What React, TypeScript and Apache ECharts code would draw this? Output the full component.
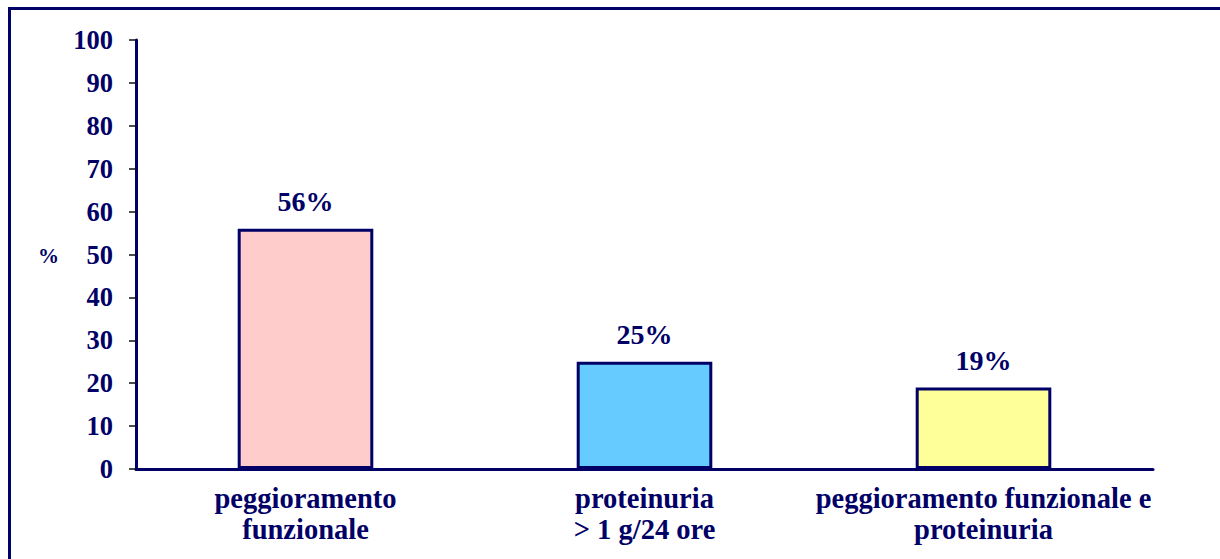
import React, { useEffect, useRef } from "react";
import * as echarts from "echarts";

const categories: string[] = [
  "peggioramento\nfunzionale",
  "proteinuria\n> 1 g/24 ore",
  "peggioramento funzionale e\nproteinuria",
];
const values: number[] = [56, 25, 19];
const barColors: string[] = ["#FFCCCC", "#66CCFF", "#FFFF99"];
const yTicks = { min: 0, max: 100, interval: 10 };
const yAxisName = "%";

const NAVY = "#000066";
const SERIF = "Liberation Serif";

export default function App() {
  const ref = useRef<HTMLDivElement>(null);

  useEffect(() => {
    document.body.style.margin = "0";
    if (!ref.current) return;
    const chart = echarts.init(ref.current, undefined, { renderer: "svg" });
    chart.setOption({
      animation: false,
      backgroundColor: "#ffffff",
      textStyle: { fontFamily: SERIF, color: NAVY, fontWeight: "bold" },
      graphic: [
        {
          // frame around the slide
          type: "rect",
          left: 7,
          top: 6,
          shape: { x: 0, y: 0, width: 1240, height: 600 },
          style: { fill: "none", stroke: NAVY, lineWidth: 3 },
          silent: true,
          z: -1,
        },
        {
          // value-axis unit
          type: "text",
          left: 38,
          top: 245,
          style: {
            text: yAxisName,
            fill: NAVY,
            font: `bold 21px "${SERIF}"`,
          },
          silent: true,
        },
      ],
      grid: { left: 136, right: 67, top: 40, bottom: 90, containLabel: false },
      xAxis: {
        type: "category",
        data: categories,
        axisLine: { lineStyle: { color: NAVY, width: 3 } },
        axisTick: { show: false },
        axisLabel: {
          color: NAVY,
          fontFamily: SERIF,
          fontWeight: "bold",
          fontSize: 28.5,
          lineHeight: 31,
          margin: 14,
          interval: 0,
        },
      },
      yAxis: {
        type: "value",
        min: yTicks.min,
        max: yTicks.max,
        interval: yTicks.interval,
        axisLine: { show: true, lineStyle: { color: NAVY, width: 3 } },
        axisTick: { show: true, length: 7, lineStyle: { color: "#111", width: 1.5 } },
        splitLine: { show: false },
        axisLabel: {
          color: NAVY,
          fontFamily: SERIF,
          fontWeight: "bold",
          fontSize: 26.5,
          margin: 23,
        },
      },
      series: [
        {
          type: "bar",
          barWidth: "40%",
          data: values.map((v, i) => ({
            value: v,
            itemStyle: { color: barColors[i] },
          })),
          itemStyle: { borderColor: NAVY, borderWidth: 3 },
          label: {
            show: true,
            position: "top",
            distance: 13,
            formatter: "{c}%",
            color: NAVY,
            fontFamily: SERIF,
            fontWeight: "bold",
            fontSize: 28,
          },
        },
      ],
    });
    return () => chart.dispose();
  }, []);

  return <div ref={ref} style={{ width: 1220, height: 559 }} />;
}
